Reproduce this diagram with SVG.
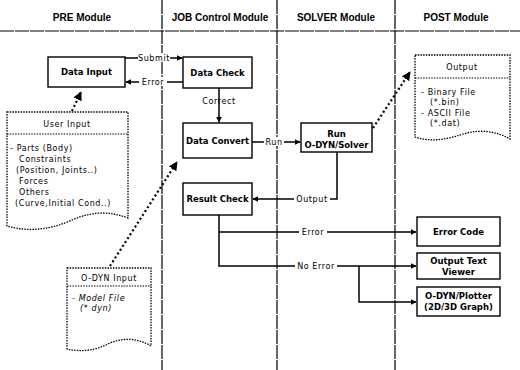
<svg xmlns="http://www.w3.org/2000/svg" width="520" height="370" viewBox="0 0 520 370">
<defs>
<marker id="ah" viewBox="0 0 10 10" refX="9" refY="5" markerWidth="6" markerHeight="6" orient="auto-start-reverse" markerUnits="userSpaceOnUse">
<path d="M0,0 L10,5 L0,10 Z" fill="#000"/>
</marker>
<marker id="ahd" viewBox="0 0 10 10" refX="9" refY="5" markerWidth="9" markerHeight="9" orient="auto" markerUnits="userSpaceOnUse">
<path d="M0,0 L10,5 L0,10 Z" fill="#000"/>
</marker>
<style>
.box{fill:#fff;stroke:#000;stroke-width:1.4}
.doc{fill:#fff;stroke:#000;stroke-width:1.3;stroke-dasharray:1.5 1.2}
.sep{stroke:#000;stroke-width:1;stroke-dasharray:1.5 1.2}
.lane{stroke:#000;stroke-width:1.2;fill:none;stroke-dasharray:14 1}
.con{stroke:#000;stroke-width:1.5;fill:none}
.dot{stroke:#000;stroke-width:2.2;fill:none;stroke-dasharray:2 2.6}
.hd{font-family:"Liberation Sans","DejaVu Sans",sans-serif;font-size:10px;font-weight:bold;text-anchor:middle}
.bl{font-family:"DejaVu Sans","Liberation Sans",sans-serif;font-size:8.5px;font-weight:bold;text-anchor:middle}
.lb{font-family:"DejaVu Sans","Liberation Sans",sans-serif;font-size:8px;text-anchor:middle;letter-spacing:0.6px}
.it{font-family:"DejaVu Sans","Liberation Sans",sans-serif;font-size:8px;letter-spacing:0.6px}
</style>
</defs>
<rect width="520" height="370" fill="#fff"/>
<g id="lanes">
<line class="lane" x1="0" y1="31" x2="520" y2="31"/>
<line class="lane" x1="162" y1="0" x2="162" y2="370"/>
<line class="lane" x1="277" y1="0" x2="277" y2="370"/>
<line class="lane" x1="395" y1="0" x2="395" y2="370"/>
<text class="hd" x="82" y="21">PRE Module</text>
<text class="hd" x="220" y="21">JOB Control Module</text>
<text class="hd" x="336" y="21">SOLVER Module</text>
<text class="hd" x="456" y="21">POST Module</text>
</g>
<g id="connectors">
<line class="con" x1="125" y1="58" x2="182" y2="58" marker-end="url(#ah)"/>
<line class="con" x1="183" y1="82" x2="126" y2="82" marker-end="url(#ah)"/>
<line class="con" x1="219" y1="88" x2="219" y2="122" marker-end="url(#ah)"/>
<line class="con" x1="252" y1="142" x2="300" y2="142" marker-end="url(#ah)"/>
<polyline class="con" points="337,152 337,199 253,199" marker-end="url(#ah)"/>
<polyline class="con" points="219,215 219,266 416,266" marker-end="url(#ah)"/>
<line class="con" x1="219" y1="232" x2="416" y2="232" marker-end="url(#ah)"/>
<polyline class="con" points="359,266 359,302 416,302" marker-end="url(#ah)"/>
<line class="dot" x1="72" y1="111" x2="81" y2="92" marker-end="url(#ahd)"/>
<line class="dot" x1="110" y1="266" x2="177" y2="162" marker-end="url(#ahd)"/>
<line class="dot" x1="373" y1="128" x2="410" y2="72" marker-end="url(#ahd)"/>
<rect x="138" y="53" width="32" height="9" fill="#fff"/>
<text class="lb" x="154" y="61">Submit</text>
<rect x="139" y="77" width="28" height="9" fill="#fff"/>
<text class="lb" x="153" y="85">Error</text>
<text class="lb" x="219" y="104">Correct</text>
<rect x="264" y="137" width="20" height="9" fill="#fff"/>
<text class="lb" x="274" y="145">Run</text>
<rect x="294" y="194" width="36" height="9" fill="#fff"/>
<text class="lb" x="312" y="202">Output</text>
<rect x="299" y="227" width="28" height="9" fill="#fff"/>
<text class="lb" x="313" y="235">Error</text>
<rect x="295" y="261" width="42" height="9" fill="#fff"/>
<text class="lb" x="316" y="269">No Error</text>
</g>
<g id="data-input">
<rect class="box" x="48" y="57" width="77" height="30"/>
<text class="bl" x="86.5" y="75">Data Input</text>
</g>
<g id="data-check">
<rect class="box" x="183" y="57" width="69" height="31"/>
<text class="bl" x="217.5" y="76">Data Check</text>
</g>
<g id="data-convert">
<rect class="box" x="183" y="123" width="69" height="35"/>
<text class="bl" x="217.5" y="144">Data Convert</text>
</g>
<g id="result-check">
<rect class="box" x="183" y="183" width="69" height="32"/>
<text class="bl" x="217.5" y="202">Result Check</text>
</g>
<g id="run-solver">
<rect class="box" x="301" y="123" width="71" height="29"/>
<text class="bl" x="336.5" y="137">Run</text>
<text class="bl" x="336.5" y="148">O-DYN/Solver</text>
</g>
<g id="error-code">
<rect class="box" x="417" y="217" width="83" height="29"/>
<text class="bl" x="458.5" y="235" font-size="9.5">Error Code</text>
</g>
<g id="output-text-viewer">
<rect class="box" x="417" y="253" width="83" height="26"/>
<text class="bl" x="458.5" y="264">Output Text</text>
<text class="bl" x="458.5" y="275">Viewer</text>
</g>
<g id="plotter">
<rect class="box" x="417" y="287" width="83" height="29"/>
<text class="bl" x="458.5" y="299">O-DYN/Plotter</text>
<text class="bl" x="458.5" y="310">(2D/3D Graph)</text>
</g>
<g id="user-input">
<path class="doc" d="M7,112 H128 V218 C112,212 95,210 72,220 C50,230 28,232 7,226 Z"/>
<line class="sep" x1="7" y1="134" x2="128" y2="134"/>
<text class="lb" x="67" y="127">User Input</text>
<text class="it" x="10" y="151">- Parts (Body)</text>
<text class="it" x="19" y="162">Constraints</text>
<text class="it" x="16" y="173">(Position, Joints..)</text>
<text class="it" x="19" y="184">Forces</text>
<text class="it" x="19" y="195">Others</text>
<text class="it" x="15" y="206">(Curve,Initial Cond..)</text>
</g>
<g id="odyn-input">
<path class="doc" d="M67,268 H151 V346 C138,338 122,337 108,344 C94,351 80,352 67,349 Z"/>
<line class="sep" x1="67" y1="286" x2="151" y2="286"/>
<text class="lb" x="109" y="281">O-DYN Input</text>
<text class="it" x="72" y="301" font-style="italic">- Model File</text>
<text class="it" x="80" y="311" font-style="italic">(* dyn)</text>
</g>
<g id="output-doc">
<path class="doc" d="M415,55 H510 V139 C496,131 480,129 463,134 C446,140 430,142 415,137 Z"/>
<line class="sep" x1="415" y1="78" x2="510" y2="78"/>
<text class="lb" x="462" y="70">Output</text>
<text class="it" x="421" y="95">- Binary File</text>
<text class="it" x="430" y="105">(*.bin)</text>
<text class="it" x="421" y="116">- ASCII File</text>
<text class="it" x="430" y="126">(*.dat)</text>
</g>
</svg>
